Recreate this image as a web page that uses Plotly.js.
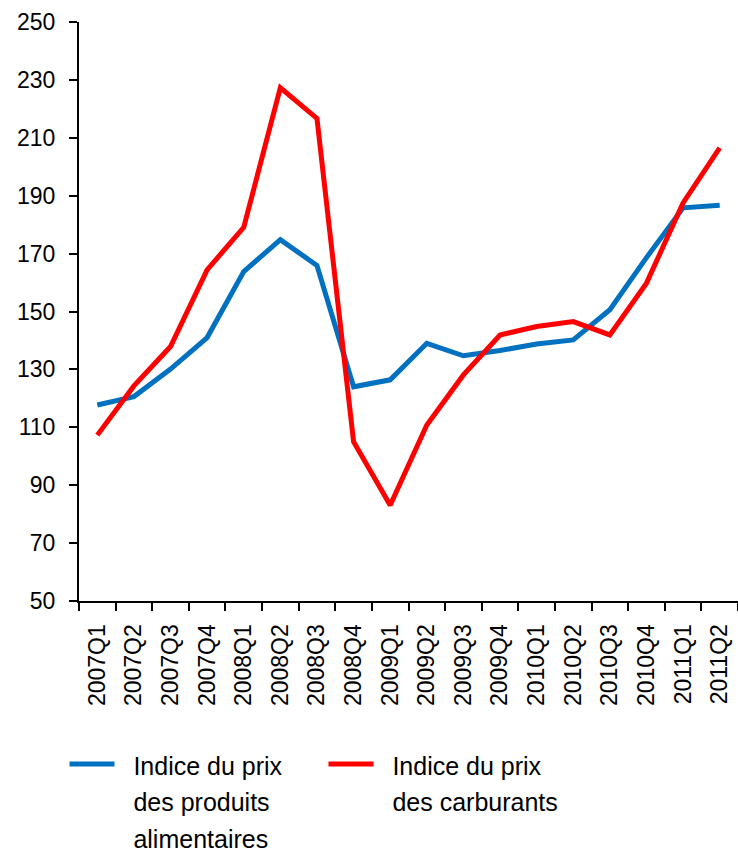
<!DOCTYPE html>
<html>
<head>
<meta charset="utf-8">
<script src="https://cdn.plot.ly/plotly-3.0.1.min.js"></script>
<style>html,body{margin:0;padding:0;background:#fff;}#chart{width:738px;height:852px;}</style>
</head>
<body>
<div id="chart"></div>
<script>
const quarters = ["2007Q1","2007Q2","2007Q3","2007Q4","2008Q1","2008Q2","2008Q3","2008Q4","2009Q1","2009Q2","2009Q3","2009Q4","2010Q1","2010Q2","2010Q3","2010Q4","2011Q1","2011Q2"];
const foodIndex = [117.7,120.6,130.1,141.0,163.8,174.8,165.9,124.0,126.4,139.0,134.7,136.5,138.8,140.2,150.6,168.6,185.8,186.7];
const fuelIndex = [107.3,124.3,137.9,164.4,179.1,227.3,216.7,105.0,83.1,110.8,128.1,141.9,144.8,146.5,141.9,159.8,187.5,206.5];
const foodNameLines = ["Indice du prix","des produits","alimentaires"];
const fuelNameLines = ["Indice du prix","des carburants"];
const yTicks = [50,70,90,110,130,150,170,190,210,230,250];

function legendName(lines) {
  return lines.map(l => '<span style="font-size:25px">\u00a0\u00a0' + l + '</span>').join('<br>');
}

const traces = [
  {x: quarters, y: foodIndex, name: legendName(foodNameLines), type: "scatter", mode: "lines",
   line: {color: "#0070C0", width: 5}},
  {x: quarters, y: fuelIndex, name: legendName(fuelNameLines), type: "scatter", mode: "lines",
   line: {color: "#FF0000", width: 5}}
];

const layout = {
  width: 738, height: 852,
  margin: {l: 79, r: 0, t: 22, b: 251, autoexpand: false},
  paper_bgcolor: "#fff", plot_bgcolor: "#fff",
  showlegend: true,
  font: {family: "Liberation Sans, Arial, sans-serif", color: "#000"},
  xaxis: {
    type: "category", range: [-0.5, 17.5], tickson: "boundaries", ticks: "outside", ticklen: 8, tickwidth: 2, tickcolor: "#000",
    showline: true, linecolor: "#000", linewidth: 2, showgrid: false, zeroline: false,
    tickangle: -90, tickfont: {size: 23, color: "#000"}, ticklabelstandoff: 12
  },
  yaxis: {
    range: [50, 250], tickvals: yTicks, ticks: "outside", ticklen: 8, tickwidth: 2, tickcolor: "#000",
    showline: true, linecolor: "#000", linewidth: 2, showgrid: false, zeroline: false,
    tickfont: {size: 23, color: "#000"}, ticklabelstandoff: 9
  },
  legend: {
    orientation: "h", x: -0.022, xanchor: "left", y: -0.239, yanchor: "top",
    font: {size: 28, color: "#000"}, valign: "top", itemwidth: 45,
    entrywidth: 199, entrywidthmode: "pixels"
  }
};

Plotly.newPlot("chart", traces, layout, {displayModeBar: false, staticPlot: true});
</script>
</body>
</html>
